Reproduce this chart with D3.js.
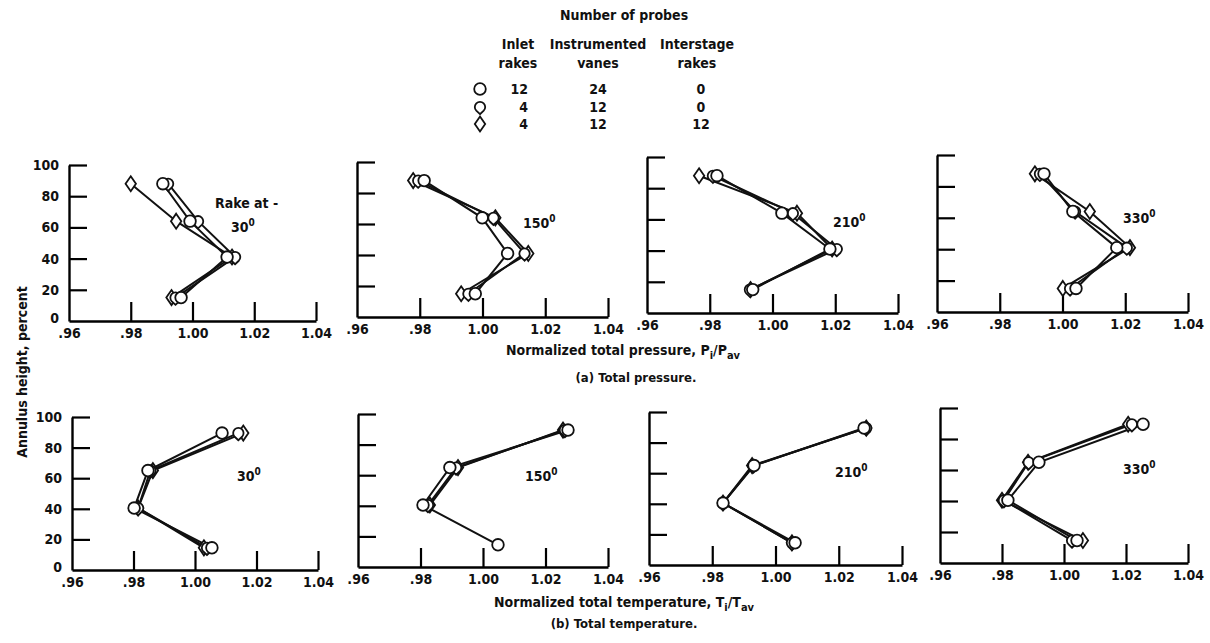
<!DOCTYPE html>
<head>
    <meta charset="utf-8">
    <script src="https://d3js.org/d3.v7.min.js"></script>
    <style>
        body { margin: 0; background: #fff; }
        text { font-family: "Liberation Sans Narrow", "DejaVu Sans Condensed", sans-serif; font-weight: bold; fill: #111; }
    </style>
</head>
<body>
    <svg id="chart" width="1210" height="643"></svg>
    <script>
        // values, listed bottom-to-top (annulus heights)
        var heightsP = [15, 41, 64, 88];
        var heightsT = [14.5, 40.5, 65, 89.5];
        var angles = ["30", "150", "210", "330"];
        var xTicks = [0.96, 0.98, 1.00, 1.02, 1.04];
        var xTickLabels = [".96", ".98", "1.00", "1.02", "1.04"];
        var yTicks = [0, 20, 40, 60, 80, 100];

        // one row per rake angle (30, 150, 210, 330)
        var pressCircle = [[0.9963, 1.0112, 0.9992, 0.9904],
                           [0.9977, 1.0080, 0.9999, 0.9814],
                           [0.9937, 1.0183, 1.0030, 0.9823],
                           [1.0043, 1.0173, 1.0033, 0.9941]];
        var pressPointed = [[0.9945, 1.0138, 1.0018, 0.9921],
                            [0.9955, 1.0134, 1.0035, 0.9795],
                            [0.9928, 1.0205, 1.0065, 0.9810],
                            [1.0024, 1.0205, 1.0040, 0.9928]];
        var pressDiamond = [[0.9932, 1.0128, 0.9947, 0.9800],
                            [0.9932, 1.0146, 1.0041, 0.9779],
                            [0.9930, 1.0190, 1.0078, 0.9766],
                            [1.0001, 1.0215, 1.0087, 0.9912]];
        var tempCircle = [[1.0055, 0.9802, 0.9847, 1.0088],
                          [1.0048, 0.9808, 0.9894, 1.0272],
                          [1.0062, 0.9834, 0.9932, 1.0280],
                          [1.0042, 0.9819, 0.9919, 1.0255]];
        var tempPointed = [[1.0039, 0.9815, 0.9855, 1.0141],
                           [null, 0.9824, 0.9914, 1.0262],
                           [1.0052, 0.9834, 0.9930, 1.0287],
                           [1.0026, 0.9806, 0.9886, 1.0219]];
        var tempDiamond = [[1.0029, 0.9815, 0.9863, 1.0157],
                           [null, 0.9830, 0.9920, 1.0256],
                           [1.0052, 0.9834, 0.9926, 1.0287],
                           [1.0061, 0.9800, 0.9884, 1.0207]];

        // legend: inlet rakes, instrumented vanes, interstage rakes
        var legendRows = [["12", "24", "0"], ["4", "12", "0"], ["4", "12", "12"]];
        var legendShapes = ["circle", "pointed", "diamond"];

        // panel frames (the scan is slightly tilted, so each panel has its own box)
        var framesP = [
            { x0: 69, x1: 316, yTop: 165, yBot: 321, lx: 162, ly: 67 },
            { x0: 357, x1: 608, yTop: 162, yBot: 317, lx: 166, ly: 66 },
            { x0: 647, x1: 898, yTop: 157, yBot: 313, lx: 186, ly: 70 },
            { x0: 937, x1: 1188, yTop: 155, yBot: 312, lx: 186, ly: 68 }];
        var framesT = [
            { x0: 72, x1: 318, yTop: 417, yBot: 570, lx: 165, ly: 64 },
            { x0: 358, x1: 608, yTop: 414, yBot: 567, lx: 167, ly: 67 },
            { x0: 649, x1: 902, yTop: 412, yBot: 565, lx: 186, ly: 65 },
            { x0: 940, x1: 1188, yTop: 408, yBot: 563, lx: 183, ly: 66 }];

        var svg = d3.select("#chart");

        function shapePath(kind) {
            if (kind === "circle") return "M5.8,0A5.8,5.8 0 1,1 -5.8,0A5.8,5.8 0 1,1 5.8,0Z";
            if (kind === "pointed") return "M0,7.2L-3.7,3.7A5.2,5.2 0 1,1 3.7,3.7Z";
            return "M0,-7.5L5.2,0L0,7.5L-5.2,0Z";
        }

        function drawPanel(f, i, heights, series, first) {
            var x = d3.scaleLinear().domain([0.96, 1.04]).range([f.x0, f.x1]);
            var y = d3.scaleLinear().domain([0, 100]).range([f.yBot, f.yTop]);
            var g = svg.append("g");

            // x axis: ticks point up from the baseline
            var xa = g.append("g")
                .attr("transform", "translate(0," + f.yBot + ")")
                .call(d3.axisBottom(x).tickValues(xTicks)
                    .tickFormat(function (d, k) { return xTickLabels[k]; })
                    .tickSizeInner(-19).tickSizeOuter(0).tickPadding(7));
            xa.select(".domain").attr("stroke-width", 2.4);
            xa.selectAll(".tick line").attr("stroke-width", 2.2);
            xa.selectAll(".tick text").attr("font-size", 14).attr("fill", "#111");
            xa.selectAll(".tick").filter(function (d) { return d === 0.96; }).select("line").remove();

            // y axis: ticks point right
            var ya = g.append("g")
                .attr("transform", "translate(" + f.x0 + ",0)")
                .call(d3.axisRight(y).tickValues(yTicks.slice(1)).tickSizeInner(18).tickSizeOuter(0).tickFormat(""));
            ya.select(".domain").attr("stroke-width", 2.4);
            ya.selectAll(".tick line").attr("stroke-width", 2.2);

            if (first) {
                var yl = g.append("g")
                    .attr("transform", "translate(" + f.x0 + ",0)")
                    .call(d3.axisLeft(y).tickValues(yTicks).tickSize(0).tickPadding(10));
                yl.select(".domain").remove();
                yl.selectAll(".tick text").attr("font-size", 14).attr("fill", "#111");
                yl.selectAll(".tick").filter(function (d) { return d === 0; }).select("text").attr("dy", "0.1em");
            }

            var line = d3.line()
                .defined(function (d) { return d.v != null; })
                .x(function (d) { return x(d.v); })
                .y(function (d) { return y(d.h); });

            var kinds = ["diamond", "pointed", "circle"];
            var sets = kinds.map(function (k) {
                return series[k][i].map(function (v, j) { return { v: v, h: heights[j] }; });
            });

            g.selectAll("path.series").data(sets).enter().append("path")
                .attr("class", "series")
                .attr("d", line)
                .attr("fill", "none")
                .attr("stroke", "#111")
                .attr("stroke-width", 2);

            sets.forEach(function (pts, s) {
                g.selectAll(null).data(pts.filter(function (d) { return d.v != null; })).enter()
                    .append("path")
                    .attr("d", shapePath(kinds[s]))
                    .attr("transform", function (d) { return "translate(" + x(d.v) + "," + y(d.h) + ")"; })
                    .attr("fill", "#fff")
                    .attr("stroke", "#111")
                    .attr("stroke-width", 1.8);
            });

            // angle label with superscript zero
            var t = g.append("text")
                .attr("x", f.x0 + f.lx)
                .attr("y", f.yTop + f.ly)
                .attr("font-size", 14);
            t.append("tspan").text(angles[i]);
            t.append("tspan").attr("dy", -6).attr("font-size", 10).text("0");
            return g;
        }

        var pSeries = { circle: pressCircle, pointed: pressPointed, diamond: pressDiamond };
        var tSeries = { circle: tempCircle, pointed: tempPointed, diamond: tempDiamond };

        framesP.forEach(function (f, i) { drawPanel(f, i, heightsP, pSeries, i === 0); });
        framesT.forEach(function (f, i) { drawPanel(f, i, heightsT, tSeries, i === 0); });

        // "Rake at -" note in the first pressure panel
        svg.append("text").attr("x", 215).attr("y", 208).attr("font-size", 14).text("Rake at -");

        // axis titles and captions
        var xt1 = svg.append("text").attr("x", 623).attr("y", 355).attr("text-anchor", "middle").attr("font-size", 14);
        xt1.append("tspan").text("Normalized total pressure,  P");
        xt1.append("tspan").attr("dy", 4).attr("font-size", 11).text("i");
        xt1.append("tspan").attr("dy", -4).text("/P");
        xt1.append("tspan").attr("dy", 4).attr("font-size", 11).text("av");

        svg.append("text").attr("x", 636).attr("y", 382).attr("text-anchor", "middle").attr("font-size", 13)
            .text("(a) Total pressure.");

        var xt2 = svg.append("text").attr("x", 624).attr("y", 607).attr("text-anchor", "middle").attr("font-size", 14);
        xt2.append("tspan").text("Normalized total temperature,  T");
        xt2.append("tspan").attr("dy", 4).attr("font-size", 11).text("i");
        xt2.append("tspan").attr("dy", -4).text("/T");
        xt2.append("tspan").attr("dy", 4).attr("font-size", 11).text("av");

        svg.append("text").attr("x", 624).attr("y", 628).attr("text-anchor", "middle").attr("font-size", 13)
            .text("(b) Total temperature.");

        svg.append("text")
            .attr("transform", "translate(27,372) rotate(-90)")
            .attr("text-anchor", "middle")
            .attr("font-size", 14)
            .text("Annulus height, percent");

        // legend
        var lg = svg.append("g");
        lg.append("text").attr("x", 624).attr("y", 20).attr("text-anchor", "middle").attr("font-size", 14).text("Number of probes");
        var heads = [["Inlet", "rakes", 518], ["Instrumented", "vanes", 598], ["Interstage", "rakes", 697]];
        heads.forEach(function (h) {
            lg.append("text").attr("x", h[2]).attr("y", 49).attr("text-anchor", "middle").attr("font-size", 14).text(h[0]);
            lg.append("text").attr("x", h[2]).attr("y", 68).attr("text-anchor", "middle").attr("font-size", 14).text(h[1]);
        });
        var rowY = [89, 107, 124];
        legendRows.forEach(function (r, k) {
            lg.append("path").attr("d", shapePath(legendShapes[k]))
                .attr("transform", "translate(480," + rowY[k] + ")")
                .attr("fill", "#fff").attr("stroke", "#111").attr("stroke-width", 1.8);
            lg.append("text").attr("x", 528).attr("y", rowY[k] + 5).attr("text-anchor", "end").attr("font-size", 14).text(r[0]);
            lg.append("text").attr("x", 598).attr("y", rowY[k] + 5).attr("text-anchor", "middle").attr("font-size", 14).text(r[1]);
            lg.append("text").attr("x", 701).attr("y", rowY[k] + 5).attr("text-anchor", "middle").attr("font-size", 14).text(r[2]);
        });
    </script>
</body>
